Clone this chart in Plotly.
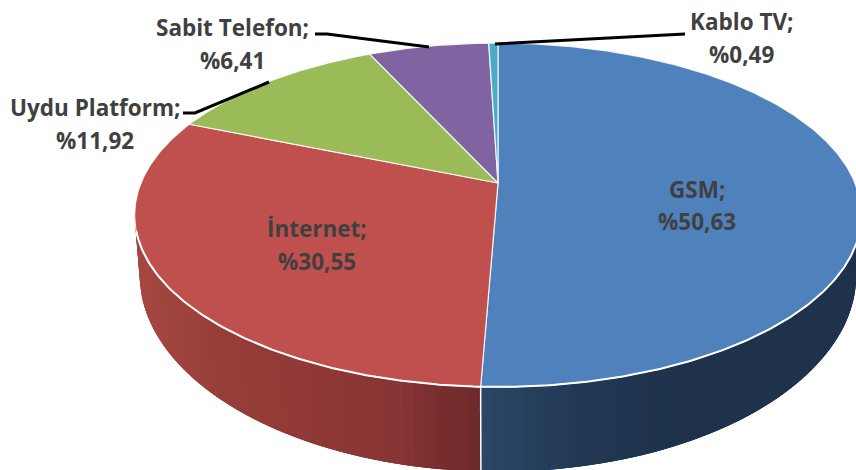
import numpy as np
import plotly.graph_objects as go

# ---- data ----
categories = ["GSM", "İnternet", "Uydu Platform", "Sabit Telefon", "Kablo TV"]
values = [50.63, 30.55, 11.92, 6.41, 0.49]
value_labels = ["%50,63", "%30,55", "%11,92", "%6,41", "%0,49"]
colors = ["#4F81BD", "#C0504D", "#9BBB59", "#8064A2", "#4BACC6"]

# ---- pie geometry (pixels of the 856x470 canvas) ----
CX, CY = 498.0, 183.0
K = 0.186                 # perspective strength
TOP = dict(a=357.0, b=166.0, cy=CY)
RIM = dict(a=352.0, b=190.0, cy=238.4)


def project(theta_deg, p):
    t = np.radians(theta_deg)
    x, y = np.sin(t), np.cos(t)
    w = 1 + K * y
    return CX + p["a"] * x / w, p["cy"] - p["b"] * y / w


def arc(t0, t1, step=0.5):
    n = max(2, int(abs(t1 - t0) / step) + 2)
    return np.linspace(t0, t1, n)


fig = go.Figure()


def poly(xs, ys, fill, line_color, line_width):
    fig.add_trace(go.Scatter(
        x=list(xs), y=list(ys), mode="lines", fill="toself", fillcolor=fill,
        line=dict(color=line_color, width=line_width), hoverinfo="skip", showlegend=False))


def line(xs, ys, color, width):
    fig.add_trace(go.Scatter(
        x=list(xs), y=list(ys), mode="lines", line=dict(color=color, width=width),
        hoverinfo="skip", showlegend=False))


# angular extents, clockwise from 12 o'clock
bounds = 3.6 * np.concatenate([[0], np.cumsum(values)])

# ---- side wall: narrow strips shaded by screen position ----
WALL_STOPS = {
    0: ([482, 540, 600, 680, 860],
        [(44, 72, 104), (37, 62, 92), (33, 55, 82), (30, 50, 75), (30, 50, 75)]),
    1: ([135, 220, 300, 400, 440, 482],
        [(166, 72, 66), (152, 62, 58), (145, 58, 55), (135, 53, 53), (120, 46, 46), (110, 43, 43)]),
}
SIDE_R, SIDE_L = 98.0, 262.0


def wall_color(i, x):
    xs, cs = WALL_STOPS[i]
    return "rgb(%d,%d,%d)" % tuple(np.interp(x, xs, [c[j] for c in cs]) for j in range(3))


for i, (t0, t1) in enumerate([(SIDE_R, bounds[1]), (SIDE_L, bounds[1])]):
    ts = arc(t0, t1, 1.5)
    for j in range(len(ts) - 1):
        # each strip overlaps the next ones, which paint over it: no seams
        seg = ts[j:min(j + 4, len(ts))]
        xt, yt = project(seg, TOP)
        xb, yb = project(seg, RIM)
        c = wall_color(i, project(ts[j:j + 2], TOP)[0].mean())
        poly(np.r_[xt, xb[::-1], xt[0]], np.r_[yt, yb[::-1], yt[0]], c, "rgba(0,0,0,0)", 0)

xt, yt = project(np.array([bounds[1]]), TOP)
xb, yb = project(np.array([bounds[1]]), RIM)
line([xt[0], xb[0]], [yt[0], yb[0]], "white", 1.5)

# ---- top face slices ----
for i in range(len(values)):
    ts = arc(bounds[i], bounds[i + 1])
    xs, ys = project(ts, TOP)
    poly(np.r_[CX, xs, CX], np.r_[CY, ys, CY], colors[i], "rgba(255,255,255,0.85)", 1.2)

# white rim on the front of the top face
xs, ys = project(arc(SIDE_R + 8, SIDE_L - 8), TOP)
line(xs, ys, "white", 2)

# ---- leader lines ----
line([315, 327, 429], [34, 34, 47], "black", 3)
line([183, 195, 269], [113, 113, 82], "black", 3)
line([495, 685], [44, 34], "black", 3)

# ---- labels ----
label_pos = {
    "GSM": (697, 189, 221),
    "İnternet": (317, 228, 261),
    "Uydu Platform": (95, 107, 140),
    "Sabit Telefon": (232, 27, 60),
    "Kablo TV": (741, 21, 54),
}
font = dict(family="Open Sans", size=22.5, color="#404040")
for name, val in zip(categories, value_labels):
    x, y1, y2 = label_pos[name]
    for txt, y in ((f"<b>{name};</b>", y1), (f"<b>{val}</b>", y2)):
        fig.add_annotation(x=x, y=y, text=txt, showarrow=False, font=font,
                           xanchor="center", yanchor="middle")

fig.update_layout(
    width=856, height=470, margin=dict(l=0, r=0, t=0, b=0),
    paper_bgcolor="white", plot_bgcolor="white", showlegend=False,
    xaxis=dict(range=[0, 856], visible=False, fixedrange=True),
    yaxis=dict(range=[470, 0], visible=False, fixedrange=True),
)
fig.write_html("out.html", config=dict(displayModeBar=False),
               post_script="document.body.style.margin='0';document.body.style.overflow='hidden';")
